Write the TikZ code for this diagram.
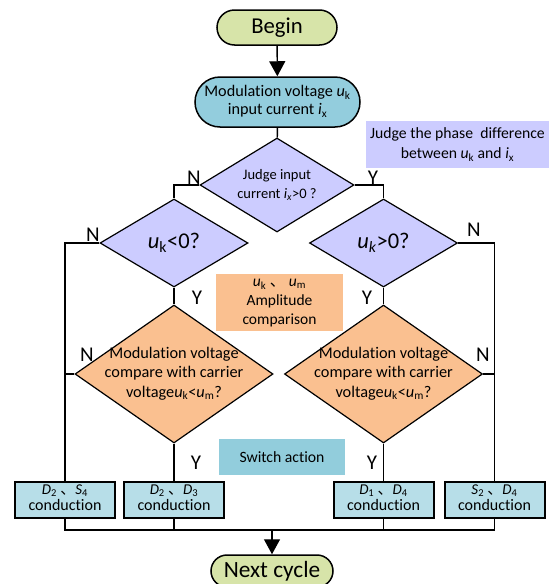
\documentclass[tikz,border=0pt]{standalone}
\usepackage{fontspec}
\setmainfont{Carlito}[Ligatures=NoCommon]
\newfontfamily\cjk{Noto Sans CJK SC}
\usetikzlibrary{shapes.geometric,shapes.misc,arrows.meta}
\definecolor{termgreen}{HTML}{D7E4A9}
\definecolor{modcyan}{HTML}{93CDDD}
\definecolor{lav}{HTML}{CCCCFF}
\definecolor{peach}{HTML}{FAC090}
\definecolor{swcyan}{HTML}{92CDDC}
\definecolor{condcyan}{HTML}{B7DEE8}
\newcommand\vs[2]{\textit{#1}\textsubscript{#2}}
\newcommand\dtext[1]{\smash{\raisebox{-0.25em}{\makebox[0pt]{\begin{tabular}{@{}c@{}}#1\end{tabular}}}}}
\begin{document}
\begin{tikzpicture}[x=1pt,y=-1pt,line width=1.4pt,
  every node/.style={font=\fontsize{15.7}{18}\selectfont,inner sep=0pt},
  term/.style={rounded rectangle,draw,line width=1.5pt,fill=termgreen,font=\fontsize{22.7}{24}\selectfont,minimum width=120pt,minimum height=35pt},
  startbox/.style={rounded rectangle,draw,line width=1.5pt,fill=modcyan,minimum width=165pt,minimum height=50pt},
  note/.style={rectangle,draw=none},
  dia/.style={diamond,draw,line width=1.2pt},
  cond/.style={rectangle,draw,line width=2pt,fill=condcyan,minimum width=100pt,minimum height=36pt,font=\fontsize{16}{16}\selectfont},
  lbl/.style={font=\fontsize{21}{22}\selectfont},
  arr/.style={-{Triangle[length=15pt,width=16pt]}},
  ]
\useasboundingbox (0,0) rectangle (549,584);
\clip (0,0) rectangle (549,584);

% nodes
\node[term] (begin) at (277,27.5) {Begin};
\node[startbox] (mod) at (277.5,102) {\fontsize{16.2}{18.5}\selectfont\begin{tabular}{@{}c@{}}Modulation voltage \vs{u}{k}\\input current \vs{i}{x}\end{tabular}};
\node[note,fill=lav,minimum width=183pt,minimum height=47pt] (phase) at (457.5,144.5)
  {\fontsize{15.7}{20.5}\selectfont\begin{tabular}{@{}c@{}}Judge the phase\ \ difference\\between \vs{u}{k} and \vs{i}{x}\end{tabular}};
\node[dia,fill=lav,minimum width=154pt,minimum height=94pt] (d1) at (277,185)
  {\fontsize{14.5}{19}\selectfont\dtext{Judge input\\current \textit{i\textsubscript{x}}>0 ?}};
\node[dia,fill=lav,minimum width=148pt,minimum height=88pt] (d2) at (174,243)
  {\fontsize{22.5}{24}\selectfont\dtext{\vs{u}{k}<0?}};
\node[dia,fill=lav,minimum width=148pt,minimum height=88pt] (d3) at (383.5,243)
  {\fontsize{22.5}{24}\selectfont\dtext{\textit{u\textsubscript{k}}>0?}};
\node[note,fill=peach,minimum width=127pt,minimum height=56pt] (amp) at (279.5,302)
  {\fontsize{15.5}{19}\selectfont\begin{tabular}{@{}c@{}}\vs{u}{k} {\cjk 、} \vs{u}{m}\\Amplitude\\comparison\end{tabular}};
\node[dia,fill=peach,minimum width=198pt,minimum height=138pt] (o1) at (174,374)
  {\fontsize{16.3}{19.5}\selectfont\dtext{Modulation voltage\\compare with carrier\\voltage\vs{u}{k}<\vs{u}{m}?}};
\node[dia,fill=peach,minimum width=198pt,minimum height=138pt] (o2) at (383.5,374)
  {\fontsize{16.3}{19.5}\selectfont\dtext{Modulation voltage\\compare with carrier\\voltage\vs{u}{k}<\vs{u}{m}?}};
\node[note,fill=swcyan,minimum width=126pt,minimum height=36pt] (sw) at (282,457) {Switch action};
\node[cond] (b1) at (65,499.5) {\begin{tabular}{@{}c@{}}{\fontsize{15}{16}\selectfont\vs{D}{2} {\cjk 、}\vs{S}{4}}\\conduction\end{tabular}};
\node[cond] (b2) at (174,499.5) {\begin{tabular}{@{}c@{}}{\fontsize{15}{16}\selectfont\vs{D}{2} {\cjk 、}\vs{D}{3}}\\conduction\end{tabular}};
\node[cond] (b3) at (383.5,499.5) {\begin{tabular}{@{}c@{}}{\fontsize{15}{16}\selectfont\vs{D}{1} {\cjk 、}\vs{D}{4}}\\conduction\end{tabular}};
\node[cond] (b4) at (494.5,499.5) {\begin{tabular}{@{}c@{}}{\fontsize{15}{16}\selectfont\vs{S}{2} {\cjk 、}\vs{D}{4}}\\conduction\end{tabular}};
\node[term,minimum width=122pt,minimum height=32pt,font=\fontsize{23.3}{24}\selectfont] (next) at (272,571) {Next cycle};
\coordinate (bus) at (272,530);

% connectors
\draw[arr] (begin) -- (mod);
\draw (mod) -- (d1);
\draw (d1.west) -| (d2.north);
\draw (d1.east) -| (d3.north);
\draw (d2.west) -| (b1.north);
\draw (d3.east) -| (b4.north);
\draw (d2.south) -- (o1.north);
\draw (d3.south) -- (o2.north);
\draw (o1.west) -- (o1.west -| b1.north);
\draw (o2.east) -- (o2.east -| b4.north);
\draw (o1.south) -- (b2.north);
\draw (o2.south) -- (b3.north);
\draw (b1.south) -- (b1.south |- bus) -- (b4.south |- bus) -- (b4.south);
\draw (b2.south) -- (b2.south |- bus);
\draw (b3.south) -- (b3.south |- bus);
\draw[arr] (bus) -- (next.north);

% labels
\node[lbl] (n1) at (194,178) {N};
\node[lbl] (y1) at (373,178) {Y};
\node[lbl] (n2) at (93,235) {N};
\node[lbl] (y2) at (197,298) {Y};
\node[lbl] (n3) at (474,230) {N};
\node[lbl] (y3) at (367,298) {Y};
\node[lbl] (n4) at (87,355) {N};
\node[lbl] (n5) at (483,355) {N};
\node[lbl] (y4) at (196,463) {Y};
\node[lbl] (y5) at (372,463) {Y};
\end{tikzpicture}
\end{document}
